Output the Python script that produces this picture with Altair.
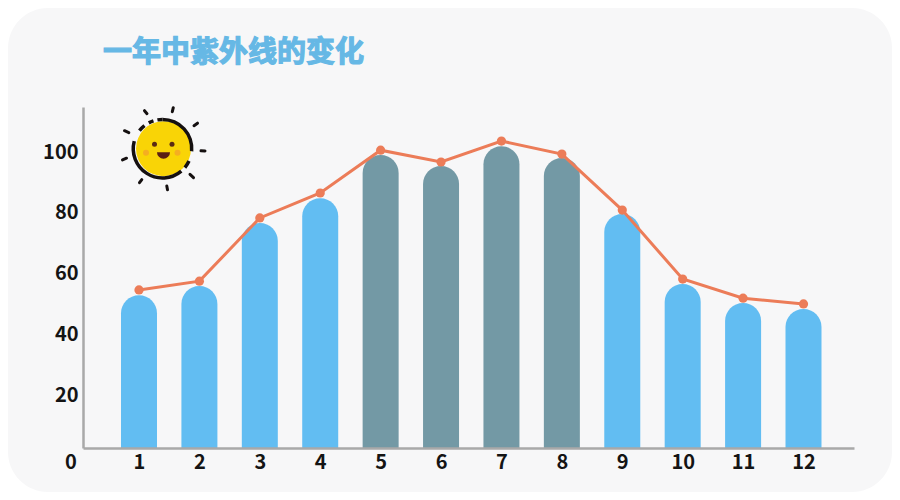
import altair as alt
import pandas as pd

# Chart data
months = [1, 2, 3, 4, 5, 6, 7, 8, 9, 10, 11, 12]
bar_values = [52.6, 55.6, 76.3, 84.5, 98.7, 95.1, 101.6, 97.7, 79.3, 56.3, 50.0, 48.0]
line_values = [54.3, 57.2, 78.0, 86.2, 100.3, 96.4, 103.3, 99.0, 80.6, 57.9, 51.6, 49.7]
tones = ["light", "light", "light", "light", "dark", "dark", "dark", "dark",
         "light", "light", "light", "light"]
y_ticks = [20, 40, 60, 80, 100]
title_text = "一年中紫外线的变化"

FONT = "Noto Sans CJK SC"
INK = "#141414"
one = pd.DataFrame({"a": [0]})
df = pd.DataFrame({"month": months, "bar": bar_values, "line": line_values, "tone": tones})

x_scale = alt.Scale(domain=[0.073, 12.836], nice=False, zero=False, padding=0)
y_scale = alt.Scale(domain=[2.3, 114.5], nice=False, zero=False)

# Card behind the plot
card = alt.Chart(one).mark_rect(color="#f7f7f8", cornerRadius=40).encode(
    x=alt.value(-75), x2=alt.value(809), y=alt.value(-99), y2=alt.value(385))

bars = alt.Chart(df).mark_bar(size=36, orient="vertical",
                              cornerRadiusTopLeft=18, cornerRadiusTopRight=18).encode(
    x=alt.X("month:Q", scale=x_scale, title=None,
            axis=alt.Axis(values=months, format="d", grid=False, ticks=False, zindex=1,
                          domainColor="#a9a9a9", domainWidth=2.5, labelColor=INK,
                          labelFont=FONT, labelFontSize=20, labelFontWeight="bold",
                          labelPadding=4, labelFlush=False, labelOverlap=False)),
    y=alt.Y("bar:Q", scale=y_scale, title=None, stack=None,
            axis=alt.Axis(values=y_ticks, format="d", grid=False, ticks=False, zindex=1,
                          domainColor="#a9a9a9", domainWidth=2.5, labelColor=INK,
                          labelFont=FONT, labelFontSize=20, labelFontWeight="bold",
                          labelPadding=5, labelOffset=1, labelFlush=False, labelOverlap=False)),
    y2=alt.value(341),
    color=alt.Color("tone:N", legend=None,
                    scale=alt.Scale(domain=["light", "dark"], range=["#62bdf2", "#7399a5"])),
)

line = alt.Chart(df).mark_line(color="#ec7c58", strokeWidth=3).encode(
    x=alt.X("month:Q", scale=x_scale), y=alt.Y("line:Q", scale=y_scale))
dots = alt.Chart(df).mark_circle(color="#ec7c58", size=85, opacity=1).encode(
    x=alt.X("month:Q", scale=x_scale), y=alt.Y("line:Q", scale=y_scale))

title = alt.Chart(one).mark_text(text=title_text, font=FONT, fontSize=29, fontWeight="bold",
                                 color="#66b8e5", align="left", baseline="middle",
                                 stroke="#66b8e5", strokeWidth=1.2).encode(
    x=alt.value(20), y=alt.value(-54))
zero = alt.Chart(one).mark_text(text="0", font=FONT, fontSize=20, fontWeight="bold",
                                color=INK, align="center", baseline="middle").encode(
    x=alt.value(-12), y=alt.value(355.5))

# Sun icon, centre in plot pixels
cx, cy = 79.5, 41.7
def val(v):
    return alt.value(v)

sun = [alt.Chart(one).mark_circle(color="#f9d406", size=3025, opacity=1).encode(x=val(cx + 1), y=val(cy))]
ring_segments = [(0, 95), (115, 130), (140, 285), (308, 322), (332, 342), (350, 360)]
for a, b in ring_segments:
    sun.append(alt.Chart(one).mark_arc(color="#151010", radius=31, radius2=27.5,
                                       theta=a * 3.14159 / 180, theta2=b * 3.14159 / 180).encode(
        x=val(cx), y=val(cy)))
rays = [(-18, -38, -15.5, -35), (10.8, -41, 9.8, -37), (31.5, -23, 35, -25.5), (38.5, 2, 42.5, 2.2),
        (27.5, 25.7, 31, 29), (4.3, 37.2, 5, 41), (-20.7, 31, -23, 34), (-40, 11.2, -36, 9.5),
        (-38, -18, -33.7, -16)]
for x1, y1, x2, y2 in rays:
    sun.append(alt.Chart(one).mark_rule(color="#151010", strokeWidth=3, strokeCap="round").encode(
        x=val(cx + x1), y=val(cy + y1), x2=val(cx + x2), y2=val(cy + y2)))
for ex, ey in [(-8, -4.5), (9.5, -4.5)]:
    sun.append(alt.Chart(one).mark_circle(color="#5a2a14", size=25, opacity=1).encode(
        x=val(cx + ex), y=val(cy + ey)))
for ex, ey in [(-16.5, 4), (15, 4)]:
    sun.append(alt.Chart(one).mark_circle(color="#f5ae21", size=36, opacity=1).encode(
        x=val(cx + ex), y=val(cy + ey)))
sun.append(alt.Chart(one).mark_arc(color="#5a1f14", radius=6.5, theta=1.5708, theta2=4.7124).encode(
    x=val(cx + 1), y=val(cy + 3.5)))

chart = alt.layer(card, bars, line, dots, title, zero, *sun).properties(
    width=771, height=341,
    padding={"left": 75, "top": 99, "right": 38, "bottom": 44},
    autosize=alt.AutoSizeParams(type="none"),
    background="white",
).configure_view(stroke=None)

chart.save("out.html", embed_options={"renderer": "svg", "actions": False})
